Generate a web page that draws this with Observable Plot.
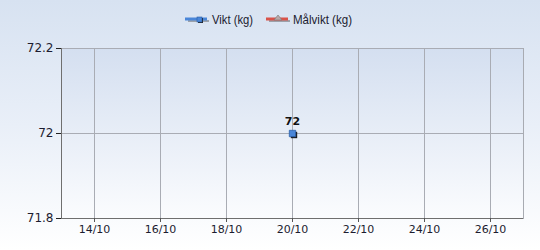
<!DOCTYPE html>
<html>
<head>
<meta charset="utf-8">
<script src="https://cdn.jsdelivr.net/npm/d3@7"></script>
<script src="https://cdn.jsdelivr.net/npm/@observablehq/plot@0.6"></script>
<style>
  html, body { margin: 0; padding: 0; }
  #wrap { position: relative; width: 540px; height: 250px; overflow: hidden;
    background: linear-gradient(to bottom, #d7e2f1 0%, #e9eff8 50%, #ffffff 100%);
    font-family: "DejaVu Sans", sans-serif; }
  #legend { position: absolute; left: 0; top: 0; }
  #chart { position: absolute; left: 0; top: 0; }
</style>
</head>
<body>
<div id="wrap">
  <div id="chart"></div>
  <svg id="legend" width="540" height="40"></svg>
</div>
<script>
// ---- data ----
const seriesNames = ["Vikt (kg)", "Målvikt (kg)"];
const seriesColors = ["#4a86d8", "#d9534a"];
const viktDates = ["2023-10-20"];
const viktValues = [72];
const malviktDates = [];
const malviktValues = [];
const xDomain = ["2023-10-13", "2023-10-27"];
const xTickDates = ["2023-10-14", "2023-10-16", "2023-10-18", "2023-10-20", "2023-10-22", "2023-10-24", "2023-10-26"];
const yDomain = [71.8, 72.2];
const yTicks = [71.8, 72, 72.2];

const parse = s => new Date(s + "T12:00:00Z");
const vikt = viktDates.map((d, i) => ({date: parse(d), value: viktValues[i]}));
const malvikt = malviktDates.map((d, i) => ({date: parse(d), value: malviktValues[i]}));
const xd = xDomain.map(s => new Date(s + "T12:00:00Z"));
const xt = xTickDates.map(parse);
const fmt = d3.utcFormat("%-d/%m");

const plot = Plot.plot({
  width: 540, height: 250,
  marginLeft: 61, marginRight: 17, marginTop: 48, marginBottom: 32,
  style: {background: "transparent", fontFamily: "DejaVu Sans, sans-serif", fontSize: "11px", color: "#1c1c30"},
  x: {type: "utc", domain: xd, ticks: xt, tickFormat: fmt, tickSize: 4, tickPadding: 3, label: null},
  y: {domain: yDomain, ticks: yTicks, tickFormat: d => String(d), tickSize: 5, tickPadding: 3, label: null},
  marks: [
    Plot.frame({fill: "url(#plotGrad)", stroke: "#a8abb2"}),
    Plot.gridX(xt, {stroke: "#a9acb4", strokeOpacity: 1}),
    Plot.gridY(yTicks, {stroke: "#a9acb4", strokeOpacity: 1}),
    Plot.ruleX([xd[0]], {stroke: "#6f6f6f"}),
    Plot.ruleY([yDomain[0]], {stroke: "#6f6f6f"}),
    Plot.axisX({ticks: xt, tickFormat: fmt, tickSize: 4, tickPadding: 3, stroke: "#555"}),
    Plot.axisY({ticks: yTicks, tickFormat: d => String(d), tickSize: 5, tickPadding: 3, stroke: "#222", fontSize: 12}),
    Plot.line(malvikt, {x: "date", y: "value", stroke: seriesColors[1], strokeWidth: 2}),
    Plot.line(vikt, {x: "date", y: "value", stroke: seriesColors[0], strokeWidth: 2}),
    Plot.dot(vikt, {x: "date", y: "value", symbol: "square", r: 3.6, fill: "#1a1a1a", dx: 1.5, dy: 1.5}),
    Plot.dot(vikt, {x: "date", y: "value", symbol: "square", r: 3.6, fill: seriesColors[0], stroke: "#2a5ea8", strokeWidth: 0.8}),
    Plot.text(vikt, {x: "date", y: "value", text: d => String(d.value), dy: -12, fontSize: 11, fill: "#111", fontWeight: "bold"})
  ]
});
const svg = d3.select(plot);
const defs = svg.insert("defs", ":first-child");
const g = defs.append("linearGradient").attr("id", "plotGrad").attr("x1", 0).attr("y1", 0).attr("x2", 0).attr("y2", 1);
g.append("stop").attr("offset", "0%").attr("stop-color", "#d4dff0");
g.append("stop").attr("offset", "100%").attr("stop-color", "#fbfcfe");
document.getElementById("chart").appendChild(plot);

// legend
const leg = d3.select("#legend");
const items = [{x: 185, name: seriesNames[0], color: seriesColors[0], marker: "square", tl: 41},
               {x: 266, name: seriesNames[1], color: seriesColors[1], marker: "triangle", tl: 59}];
items.forEach(it => {
  const gg = leg.append("g");
  gg.append("line").attr("x1", it.x + 3).attr("x2", it.x + 24).attr("y1", 21).attr("y2", 21).attr("stroke", "#444").attr("stroke-width", 1.5).attr("opacity", 0.55);
  gg.append("line").attr("x1", it.x).attr("x2", it.x + 22).attr("y1", 19).attr("y2", 19).attr("stroke", it.color).attr("stroke-width", 3);
  if (it.marker === "square") {
    gg.append("rect").attr("x", it.x + 13).attr("y", 18).attr("width", 5).attr("height", 5).attr("fill", "#222");
    gg.append("rect").attr("x", it.x + 12).attr("y", 17).attr("width", 5).attr("height", 5).attr("fill", it.color).attr("stroke", "#2a5ea8").attr("stroke-width", 0.6);
  } else {
    gg.append("path").attr("d", `M${it.x + 12},15 L${it.x + 16},20 L${it.x + 8},20 Z`).attr("fill", "#b9a7a7").attr("stroke", "#777").attr("stroke-width", 0.6);
  }
  gg.append("text").attr("x", it.x + 27).attr("y", 23.5).attr("font-size", 12).attr("fill", "#1c1c30")
    .attr("font-family", "Liberation Sans, sans-serif").attr("textLength", it.tl).attr("lengthAdjust", "spacingAndGlyphs").text(it.name);
});
</script>
</body>
</html>
